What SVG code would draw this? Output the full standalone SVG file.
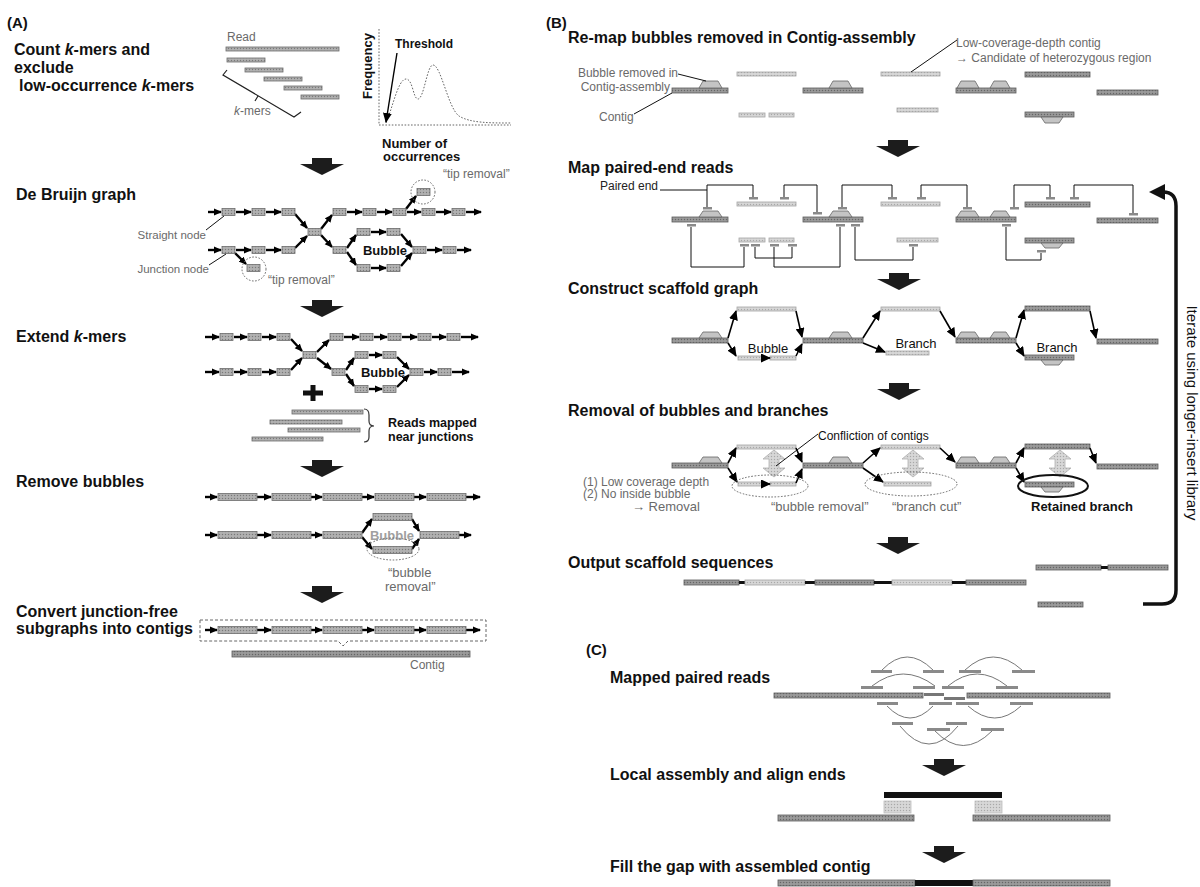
<svg xmlns="http://www.w3.org/2000/svg" width="1200" height="887" viewBox="0 0 1200 887">
<defs>
<style>
text{font-family:"Liberation Sans",Arial,Helvetica,sans-serif}
.ttl{font-size:16px;font-weight:bold;fill:#111}
.pl{font-size:15px;font-weight:bold;fill:#111}
.g{font-size:12px;fill:#6a6a6a}
.gb{font-size:13px;fill:#6a6a6a}
.bk{font-size:13px;font-weight:bold;fill:#111}
.rg{font-size:13px;fill:#111}
.n{fill:url(#texN);stroke:#6b6b6b;stroke-width:0.8}
.dk{fill:url(#texD);stroke:#5c5c5c;stroke-width:0.8}
.lt{fill:url(#texL);stroke:#a4a4a4;stroke-width:0.8}
.rd{fill:#8a8a8a}
.hat{fill:#c4c4c4;stroke:#666;stroke-width:0.8}
.e{stroke:#000;stroke-width:2.4;fill:none;marker-end:url(#ah)}
.e2{stroke:#000;stroke-width:1.6;fill:none;marker-end:url(#ah2)}
.th{stroke:#111;stroke-width:1;fill:none}
.dt{stroke:#666;stroke-width:1;stroke-dasharray:1.6 1.6;fill:none}
.arc{stroke:#777;stroke-width:1;fill:none}
.big{fill:#1c1c1c}
.dbl{fill:url(#texL);stroke:#b0b0b0;stroke-width:0.8}
</style>
<pattern id="texN" width="3" height="3" patternUnits="userSpaceOnUse"><rect width="3" height="3" fill="#ababab"/><rect width="1" height="1" fill="#7a7a7a"/><rect x="1.5" y="1.5" width="1" height="1" fill="#c4c4c4"/></pattern>
<pattern id="texD" width="3" height="3" patternUnits="userSpaceOnUse"><rect width="3" height="3" fill="#939393"/><rect width="1" height="1" fill="#666"/><rect x="1.5" y="1.5" width="1" height="1" fill="#b0b0b0"/></pattern>
<pattern id="texL" width="3" height="3" patternUnits="userSpaceOnUse"><rect width="3" height="3" fill="#d2d2d2"/><rect width="1" height="1" fill="#a8a8a8"/><rect x="1.5" y="1.5" width="1" height="1" fill="#e6e6e6"/></pattern>
<marker id="ah" markerUnits="userSpaceOnUse" markerWidth="8" markerHeight="8" refX="7" refY="4" orient="auto"><path d="M0,0.5 L8,4 L0,7.5 Z" fill="#000"/></marker>
<marker id="ah2" markerUnits="userSpaceOnUse" markerWidth="10" markerHeight="9" refX="9" refY="4.5" orient="auto"><path d="M0,0 L10,4.5 L0,9 Z" fill="#000"/></marker>
<path id="bigarrow" d="M-10,0 H10 V6 H22 L0,17 L-22,6 H-10 Z"/>
<path id="dblarrow" d="M0,0 L11,9 L5,9 L5,18 L11,18 L0,27 L-11,18 L-5,18 L-5,9 L-11,9 Z"/>
</defs>
<rect width="1200" height="887" fill="#fff"/>

<!-- ================= PANEL A ================= -->
<g id="a-count">
<text class="pl" x="7" y="28">(A)</text>
<text class="ttl" x="14" y="55">Count <tspan font-style="italic">k</tspan>-mers and</text>
<text class="ttl" x="14" y="73">exclude</text>
<text class="ttl" x="19" y="91">low-occurrence <tspan font-style="italic">k</tspan>-mers</text>
</g>
<g id="a-reads">
<text class="g" x="227" y="41">Read</text>
<rect class="n" x="226" y="47" width="113" height="4"/>
<rect class="n" x="227" y="58" width="38" height="4"/>
<rect class="n" x="245" y="68" width="38" height="4"/>
<rect class="n" x="264" y="77" width="38" height="4"/>
<rect class="n" x="284" y="86" width="38" height="4"/>
<rect class="n" x="301" y="95" width="38" height="4"/>
<path d="M227,70 L223,75 L294,117 L301,112 M258,96 L255,101" stroke="#222" stroke-width="1.2" fill="none"/>
<text class="g" x="234" y="115"><tspan font-style="italic">k</tspan>-mers</text>
</g>
<g id="a-histogram">
<line class="dt" x1="379" y1="29" x2="379" y2="125"/>
<line class="dt" x1="379" y1="125" x2="511" y2="125"/>
<text class="bk" transform="translate(372,66) rotate(-90)" text-anchor="middle">Frequency</text>
<text class="bk" x="395" y="48" style="font-size:12px">Threshold</text>
<path class="dt" d="M386,123 C392,110 398,79 406,79 C413,79 413,99 418,99 C424,99 427,65 433,65 C441,65 448,108 459,116 C470,123 490,123 511,123"/>
<line x1="397" y1="53" x2="386" y2="122" stroke="#000" stroke-width="1.4" marker-end="url(#ah2)"/>
<text class="bk" x="382" y="148">Number of</text>
<text class="bk" x="383" y="161">occurrences</text>
</g>

<g id="a-arrows">
<use href="#bigarrow" class="big" x="322" y="158"/>
<use href="#bigarrow" class="big" x="322" y="300"/>
<use href="#bigarrow" class="big" x="322" y="460"/>
<use href="#bigarrow" class="big" x="322" y="586"/>
</g>

<g id="a-debruijn">
<text class="ttl" x="16" y="200">De Bruijn graph</text>
<g id="a-db-edges">
<line class="e" x1="208" y1="212" x2="221" y2="212"/>
<line class="e" x1="236" y1="212" x2="251" y2="212"/>
<line class="e" x1="266" y1="212" x2="281" y2="212"/>
<line class="e" x1="295" y1="214" x2="307" y2="228"/>
<line class="e" x1="321" y1="229" x2="332" y2="215"/>
<line class="e" x1="347" y1="212" x2="362" y2="212"/>
<line class="e" x1="377" y1="212" x2="392" y2="212"/>
<line class="e" x1="407" y1="212" x2="421" y2="212"/>
<line class="e" x1="436" y1="212" x2="451" y2="212"/>
<line class="e" x1="466" y1="212" x2="481" y2="212"/>
<line class="e" x1="406" y1="209" x2="416" y2="196"/>
<line class="e" x1="208" y1="250" x2="221" y2="250"/>
<line class="e" x1="236" y1="250" x2="251" y2="250"/>
<line class="e" x1="266" y1="250" x2="281" y2="250"/>
<line class="e" x1="295" y1="248" x2="307" y2="236"/>
<line class="e" x1="321" y1="235" x2="332" y2="247"/>
<line class="e" x1="347" y1="248" x2="356" y2="235"/>
<line class="e" x1="347" y1="252" x2="356" y2="265"/>
<line class="e" x1="371" y1="232" x2="386" y2="232"/>
<line class="e" x1="371" y1="268" x2="386" y2="268"/>
<line class="e" x1="401" y1="234" x2="412" y2="247"/>
<line class="e" x1="401" y1="266" x2="412" y2="253"/>
<line class="e" x1="427" y1="250" x2="442" y2="250"/>
<line class="e" x1="457" y1="250" x2="471" y2="250"/>
<line class="e" x1="235" y1="253" x2="246" y2="264"/>
</g>
<g id="a-db-nodes">
<rect class="n" x="222" y="208.5" width="13" height="7"/>
<rect class="n" x="252" y="208.5" width="13" height="7"/>
<rect class="n" x="282" y="208.5" width="13" height="7"/>
<rect class="n" x="308" y="228.5" width="13" height="7"/>
<rect class="n" x="333" y="208.5" width="13" height="7"/>
<rect class="n" x="363" y="208.5" width="13" height="7"/>
<rect class="n" x="393" y="208.5" width="13" height="7"/>
<rect class="n" x="422" y="208.5" width="13" height="7"/>
<rect class="n" x="452" y="208.5" width="13" height="7"/>
<rect class="n" x="417" y="188.5" width="13" height="7"/>
<rect class="n" x="222" y="246.5" width="13" height="7"/>
<rect class="n" x="252" y="246.5" width="13" height="7"/>
<rect class="n" x="282" y="246.5" width="13" height="7"/>
<rect class="n" x="333" y="246.5" width="13" height="7"/>
<rect class="n" x="357" y="228.5" width="13" height="7"/>
<rect class="n" x="387" y="228.5" width="13" height="7"/>
<rect class="n" x="357" y="264.5" width="13" height="7"/>
<rect class="n" x="387" y="264.5" width="13" height="7"/>
<rect class="n" x="413" y="246.5" width="13" height="7"/>
<rect class="n" x="443" y="246.5" width="13" height="7"/>
<rect class="n" x="247" y="264.5" width="13" height="7"/>
</g>
<circle class="dt" cx="423" cy="192" r="12"/>
<circle class="dt" cx="254" cy="269" r="12"/>
<text class="g" x="443" y="178">“tip removal”</text>
<text class="g" x="268" y="284">“tip removal”</text>
<text class="g" x="206" y="239" text-anchor="end" style="font-size:11.5px">Straight node</text>
<line class="th" x1="206" y1="230" x2="224" y2="216"/>
<text class="g" x="209" y="273" text-anchor="end" style="font-size:11.5px">Junction node</text>
<line class="th" x1="209" y1="265" x2="226" y2="254"/>
<text class="bk" x="385" y="255" text-anchor="middle">Bubble</text>
</g>

<g id="a-extend">
<text class="ttl" x="16" y="342">Extend <tspan font-style="italic">k</tspan>-mers</text>
<g id="a-ex-edges">
<line class="e" x1="205" y1="337" x2="219" y2="337"/>
<line class="e" x1="234" y1="337" x2="247" y2="337"/>
<line class="e" x1="262" y1="337" x2="276" y2="337"/>
<line class="e" x1="291" y1="339" x2="302" y2="351"/>
<line class="e" x1="317" y1="352" x2="329" y2="340"/>
<line class="e" x1="344" y1="337" x2="359" y2="337"/>
<line class="e" x1="374" y1="337" x2="387" y2="337"/>
<line class="e" x1="402" y1="337" x2="417" y2="337"/>
<line class="e" x1="432" y1="337" x2="446" y2="337"/>
<line class="e" x1="461" y1="337" x2="478" y2="337"/>
<line class="e" x1="205" y1="372" x2="219" y2="372"/>
<line class="e" x1="234" y1="372" x2="247" y2="372"/>
<line class="e" x1="262" y1="372" x2="276" y2="372"/>
<line class="e" x1="291" y1="370" x2="302" y2="358"/>
<line class="e" x1="317" y1="358" x2="331" y2="369"/>
<line class="e" x1="346" y1="370" x2="354" y2="358"/>
<line class="e" x1="346" y1="374" x2="354" y2="386"/>
<line class="e" x1="369" y1="355" x2="382" y2="355"/>
<line class="e" x1="369" y1="389" x2="382" y2="389"/>
<line class="e" x1="397" y1="357" x2="409" y2="369"/>
<line class="e" x1="397" y1="387" x2="409" y2="375"/>
<line class="e" x1="424" y1="372" x2="437" y2="372"/>
<line class="e" x1="452" y1="372" x2="469" y2="372"/>
</g>
<g id="a-ex-nodes">
<rect class="n" x="220" y="333.5" width="13" height="7"/>
<rect class="n" x="248" y="333.5" width="13" height="7"/>
<rect class="n" x="277" y="333.5" width="13" height="7"/>
<rect class="n" x="303" y="351.5" width="13" height="7"/>
<rect class="n" x="330" y="333.5" width="13" height="7"/>
<rect class="n" x="360" y="333.5" width="13" height="7"/>
<rect class="n" x="388" y="333.5" width="13" height="7"/>
<rect class="n" x="418" y="333.5" width="13" height="7"/>
<rect class="n" x="447" y="333.5" width="13" height="7"/>
<rect class="n" x="220" y="368.5" width="13" height="7"/>
<rect class="n" x="248" y="368.5" width="13" height="7"/>
<rect class="n" x="277" y="368.5" width="13" height="7"/>
<rect class="n" x="332" y="368.5" width="13" height="7"/>
<rect class="n" x="355" y="351.5" width="13" height="7"/>
<rect class="n" x="383" y="351.5" width="13" height="7"/>
<rect class="n" x="355" y="385.5" width="13" height="7"/>
<rect class="n" x="383" y="385.5" width="13" height="7"/>
<rect class="n" x="410" y="368.5" width="13" height="7"/>
<rect class="n" x="438" y="368.5" width="13" height="7"/>
</g>
<text class="bk" x="383" y="377" text-anchor="middle">Bubble</text>
<path d="M303,393 H323 M313,385 V401" stroke="#111" stroke-width="5"/>
<rect class="n" x="292" y="410" width="71" height="4"/>
<rect class="n" x="270" y="420" width="72" height="4"/>
<rect class="n" x="288" y="428" width="72" height="4"/>
<rect class="n" x="252" y="437" width="71" height="4"/>
<path d="M364,409 Q369,409 369,415 L369,421 Q369,426 374,426 Q369,426 369,431 L369,437 Q369,442 364,442" stroke="#333" stroke-width="1.2" fill="none"/>
<text class="bk" x="388" y="427" style="font-size:12.5px">Reads mapped</text>
<text class="bk" x="388" y="441" style="font-size:12.5px">near junctions</text>
</g>

<g id="a-remove">
<text class="ttl" x="16" y="487">Remove bubbles</text>
<g id="a-rm-edges">
<line class="e" x1="205" y1="497" x2="217" y2="497"/>
<line class="e" x1="257" y1="497" x2="271" y2="497"/>
<line class="e" x1="311" y1="497" x2="322" y2="497"/>
<line class="e" x1="362" y1="497" x2="374" y2="497"/>
<line class="e" x1="414" y1="497" x2="426" y2="497"/>
<line class="e" x1="466" y1="497" x2="480" y2="497"/>
<line class="e" x1="205" y1="535" x2="217" y2="535"/>
<line class="e" x1="257" y1="535" x2="271" y2="535"/>
<line class="e" x1="311" y1="535" x2="322" y2="535"/>
<line class="e" x1="362" y1="533" x2="372" y2="519"/>
<line class="e" x1="362" y1="537" x2="372" y2="549"/>
<line class="e" x1="412" y1="519" x2="419" y2="531"/>
<line class="e" x1="412" y1="549" x2="419" y2="539"/>
<line class="e" x1="459" y1="535" x2="471" y2="535"/>
</g>
<g id="a-rm-nodes">
<rect class="n" x="218" y="493.5" width="39" height="7"/>
<rect class="n" x="272" y="493.5" width="39" height="7"/>
<rect class="n" x="323" y="493.5" width="39" height="7"/>
<rect class="n" x="375" y="493.5" width="39" height="7"/>
<rect class="n" x="427" y="493.5" width="39" height="7"/>
<rect class="n" x="218" y="531.5" width="39" height="7"/>
<rect class="n" x="272" y="531.5" width="39" height="7"/>
<rect class="n" x="323" y="531.5" width="39" height="7"/>
<rect class="n" x="373" y="513.5" width="39" height="7"/>
<rect class="n" x="373" y="546.5" width="39" height="7"/>
<rect class="n" x="420" y="531.5" width="39" height="7"/>
</g>
<text x="392" y="540" text-anchor="middle" style="font-size:13px;font-weight:bold;fill:#a0a0a0;stroke:#fff;stroke-width:2;paint-order:stroke">Bubble</text>
<ellipse class="dt" cx="393" cy="549" rx="26" ry="11"/>
<text class="gb" x="388" y="577">“bubble</text>
<text class="gb" x="385" y="591">removal”</text>
</g>

<g id="a-convert">
<text class="ttl" x="16" y="617">Convert junction-free</text>
<text class="ttl" x="16" y="634">subgraphs into contigs</text>
<g id="a-cv-edges">
<line class="e" x1="205" y1="630" x2="217" y2="630"/>
<line class="e" x1="257" y1="630" x2="271" y2="630"/>
<line class="e" x1="311" y1="630" x2="322" y2="630"/>
<line class="e" x1="362" y1="630" x2="374" y2="630"/>
<line class="e" x1="414" y1="630" x2="426" y2="630"/>
<line class="e" x1="466" y1="630" x2="480" y2="630"/>
</g>
<g id="a-cv-nodes">
<rect class="n" x="218" y="626.5" width="39" height="7"/>
<rect class="n" x="272" y="626.5" width="39" height="7"/>
<rect class="n" x="323" y="626.5" width="39" height="7"/>
<rect class="n" x="375" y="626.5" width="39" height="7"/>
<rect class="n" x="427" y="626.5" width="39" height="7"/>
</g>
<path d="M200,620 H486 V641 H348 L343,646 L338,641 H200 Z" fill="none" stroke="#666" stroke-width="1" stroke-dasharray="3 2"/>
<rect class="dk" x="232" y="651" width="238" height="6"/>
<text class="g" x="410" y="669">Contig</text>
</g>

<!-- ================= PANEL B ================= -->
<text class="pl" x="546" y="28">(B)</text>

<g id="b-remap">
<text class="ttl" x="568" y="43">Re-map bubbles removed in Contig-assembly</text>
<rect class="dk" x="672" y="88" width="56" height="5"/>
<polygon class="hat" points="699,88 703,81 718,81 722,88"/>
<rect class="lt" x="737" y="72" width="59" height="4"/>
<rect class="lt" x="739" y="113" width="26" height="4"/>
<rect class="lt" x="769" y="113" width="25" height="4"/>
<rect class="dk" x="803" y="88" width="60" height="5"/>
<polygon class="hat" points="829,88 833,81 848,81 852,88"/>
<rect class="lt" x="881" y="72" width="59" height="4"/>
<rect class="lt" x="897" y="108" width="41" height="4"/>
<rect class="dk" x="956" y="88" width="60" height="5"/>
<polygon class="hat" points="957,88 961,81 975,81 979,88"/>
<polygon class="hat" points="990,88 994,81 1006,81 1010,88"/>
<rect class="dk" x="1025" y="72" width="65" height="5"/>
<rect class="dk" x="1025" y="112" width="49" height="5"/>
<polygon class="hat" points="1041,117 1045,123 1059,123 1063,117"/>
<rect class="dk" x="1097" y="90" width="61" height="5"/>
<text class="g" x="678" y="77" text-anchor="end">Bubble removed in</text>
<text class="g" x="670" y="91" text-anchor="end">Contig-assembly</text>
<line class="th" x1="678" y1="74" x2="706" y2="81"/>
<text class="g" x="599" y="121">Contig</text>
<line class="th" x1="634" y1="114" x2="672" y2="93"/>
<text class="g" x="956" y="47">Low-coverage-depth contig</text>
<text class="g" x="956" y="62">→ Candidate of heterozygous region</text>
<line class="th" x1="957" y1="40" x2="911" y2="72"/>
</g>

<g id="b-arrows">
<use href="#bigarrow" class="big" x="898" y="140"/>
<use href="#bigarrow" class="big" x="899" y="273"/>
<use href="#bigarrow" class="big" x="899" y="383"/>
<use href="#bigarrow" class="big" x="898" y="537"/>
</g>

<g id="b-paired">
<text class="ttl" x="568" y="173">Map paired-end reads</text>
<text x="600" y="190" style="font-size:12px;fill:#222">Paired end</text>
<rect class="dk" x="672" y="217" width="56" height="5"/>
<polygon class="hat" points="699,217 703,211 718,211 722,217"/>
<rect class="lt" x="737" y="202" width="59" height="4"/>
<rect class="lt" x="739" y="238" width="26" height="4"/>
<rect class="lt" x="769" y="238" width="25" height="4"/>
<rect class="dk" x="803" y="217" width="60" height="5"/>
<polygon class="hat" points="829,217 833,211 848,211 852,217"/>
<rect class="lt" x="881" y="202" width="59" height="4"/>
<rect class="lt" x="897" y="238" width="41" height="4"/>
<rect class="dk" x="956" y="217" width="60" height="5"/>
<polygon class="hat" points="957,217 961,211 975,211 979,217"/>
<polygon class="hat" points="990,217 994,211 1006,211 1010,217"/>
<rect class="dk" x="1025" y="202" width="65" height="5"/>
<rect class="dk" x="1025" y="238" width="49" height="5"/>
<polygon class="hat" points="1041,243 1045,248 1059,248 1063,243"/>
<rect class="dk" x="1097" y="218" width="61" height="5"/>
<g id="b-pe-reads" class="rd">
<rect x="703" y="207" width="9" height="2.5"/>
<rect x="749" y="197" width="9" height="2.5"/>
<rect x="780" y="197" width="9" height="2.5"/>
<rect x="813" y="212" width="9" height="2.5"/>
<rect x="838" y="207" width="9" height="2.5"/>
<rect x="888" y="197" width="9" height="2.5"/>
<rect x="917" y="197" width="9" height="2.5"/>
<rect x="963" y="207" width="9" height="2.5"/>
<rect x="1010" y="207" width="9" height="2.5"/>
<rect x="1046" y="197" width="9" height="2.5"/>
<rect x="1070" y="197" width="9" height="2.5"/>
<rect x="1129" y="213" width="9" height="2.5"/>
<rect x="687" y="224" width="9" height="2.5"/>
<rect x="740" y="244" width="9" height="2.5"/>
<rect x="751" y="244" width="9" height="2.5"/>
<rect x="770" y="244" width="9" height="2.5"/>
<rect x="788" y="244" width="9" height="2.5"/>
<rect x="836" y="224" width="9" height="2.5"/>
<rect x="851" y="224" width="9" height="2.5"/>
<rect x="909" y="244" width="9" height="2.5"/>
<rect x="1002" y="224" width="9" height="2.5"/>
<rect x="1037" y="250" width="9" height="2.5"/>
</g>
<g id="b-pe-links" class="th">
<path d="M660,190 H707"/>
<path d="M707,207 V185 H753 V197"/>
<path d="M784,197 V185 H817 V212"/>
<path d="M842,207 V185 H892 V197"/>
<path d="M921,197 V185 H967 V207"/>
<path d="M1014,207 V185 H1050 V197"/>
<path d="M1074,197 V185 H1133 V213"/>
<path d="M691,227 V267 H744 V247"/>
<path d="M755,247 V258 H792 V247"/>
<path d="M774,247 V267 H840 V227"/>
<path d="M855,227 V260 H913 V247"/>
<path d="M1006,227 V260 H1041 V253"/>
</g>
</g>

<g id="b-scaffold">
<text class="ttl" x="568" y="294">Construct scaffold graph</text>
<rect class="dk" x="672" y="338" width="56" height="5"/>
<polygon class="hat" points="699,338 703,332 718,332 722,338"/>
<rect class="lt" x="737" y="307" width="59" height="4"/>
<rect class="lt" x="738" y="356" width="25" height="4"/>
<rect class="lt" x="770" y="356" width="26" height="4"/>
<rect class="dk" x="803" y="338" width="60" height="5"/>
<polygon class="hat" points="829,338 833,332 848,332 852,338"/>
<rect class="lt" x="881" y="307" width="59" height="4"/>
<rect class="lt" x="886" y="351" width="43" height="4"/>
<rect class="dk" x="956" y="338" width="60" height="5"/>
<polygon class="hat" points="957,338 961,332 975,332 979,338"/>
<polygon class="hat" points="990,338 994,332 1006,332 1010,338"/>
<rect class="dk" x="1025" y="306" width="65" height="5"/>
<rect class="dk" x="1025" y="355" width="49" height="5"/>
<polygon class="hat" points="1041,360 1045,365 1059,365 1063,360"/>
<rect class="dk" x="1097" y="339" width="61" height="5"/>
<g id="b-sc-edges">
<line class="e2" x1="728" y1="338" x2="736" y2="311"/>
<line class="e2" x1="728" y1="343" x2="736" y2="356"/>
<line class="e2" x1="763" y1="358" x2="770" y2="358"/>
<line class="e2" x1="796" y1="311" x2="802" y2="337"/>
<line class="e2" x1="796" y1="356" x2="802" y2="344"/>
<line class="e2" x1="863" y1="338" x2="880" y2="311"/>
<line class="e2" x1="863" y1="343" x2="885" y2="352"/>
<line class="e2" x1="940" y1="311" x2="955" y2="337"/>
<line class="e2" x1="1016" y1="338" x2="1024" y2="310"/>
<line class="e2" x1="1016" y1="343" x2="1024" y2="356"/>
<line class="e2" x1="1090" y1="311" x2="1096" y2="338"/>
</g>
<text class="rg" x="768" y="353" text-anchor="middle">Bubble</text>
<text class="rg" x="916" y="348" text-anchor="middle">Branch</text>
<text class="rg" x="1057" y="352" text-anchor="middle">Branch</text>
</g>

<g id="b-removal">
<text class="ttl" x="568" y="416">Removal of bubbles and branches</text>
<use href="#dblarrow" class="dbl" x="774" y="450"/>
<use href="#dblarrow" class="dbl" x="913" y="450"/>
<use href="#dblarrow" class="dbl" x="1060" y="450"/>
<rect class="dk" x="672" y="463" width="56" height="5"/>
<polygon class="hat" points="699,463 703,457 718,457 722,463"/>
<rect class="lt" x="737" y="445" width="59" height="4"/>
<rect class="lt" x="738" y="482" width="25" height="4"/>
<rect class="lt" x="770" y="482" width="26" height="4"/>
<rect class="dk" x="803" y="463" width="60" height="5"/>
<polygon class="hat" points="829,463 833,457 848,457 852,463"/>
<rect class="lt" x="881" y="445" width="59" height="4"/>
<rect class="lt" x="884" y="482" width="47" height="4"/>
<rect class="dk" x="956" y="463" width="60" height="5"/>
<polygon class="hat" points="957,463 961,457 975,457 979,463"/>
<polygon class="hat" points="990,463 994,457 1006,457 1010,463"/>
<rect class="dk" x="1025" y="444" width="65" height="5"/>
<rect class="dk" x="1025" y="482" width="49" height="5"/>
<polygon class="hat" points="1041,487 1045,492 1059,492 1063,487"/>
<rect class="dk" x="1097" y="464" width="61" height="5"/>
<g id="b-rm-edges">
<line class="e2" x1="728" y1="463" x2="736" y2="448"/>
<line class="e2" x1="728" y1="468" x2="737" y2="482"/>
<line class="e2" x1="763" y1="484" x2="770" y2="484"/>
<line class="e2" x1="796" y1="448" x2="802" y2="462"/>
<line class="e2" x1="796" y1="483" x2="802" y2="469"/>
<line class="e2" x1="863" y1="463" x2="880" y2="448"/>
<line class="e2" x1="863" y1="468" x2="883" y2="482"/>
<line class="e2" x1="940" y1="448" x2="955" y2="462"/>
<line class="e2" x1="1016" y1="463" x2="1024" y2="448"/>
<line class="e2" x1="1016" y1="468" x2="1024" y2="482"/>
<line class="e2" x1="1090" y1="448" x2="1096" y2="463"/>
</g>
<text x="818" y="440" style="font-size:12px;fill:#111">Confliction of contigs</text>
<line class="th" x1="818" y1="434" x2="776" y2="466"/>
<ellipse class="dt" cx="770" cy="486" rx="38" ry="11"/>
<ellipse class="dt" cx="911" cy="484" rx="46" ry="12"/>
<ellipse cx="1053" cy="486" rx="35" ry="11" fill="none" stroke="#111" stroke-width="2"/>
<text class="g" x="583" y="486">(1) Low coverage depth</text>
<text class="g" x="583" y="498">(2) No inside bubble</text>
<text class="gb" x="632" y="511">→ Removal</text>
<text class="gb" x="771" y="511">“bubble removal”</text>
<text class="gb" x="892" y="511">“branch cut”</text>
<text class="bk" x="1031" y="511">Retained branch</text>
</g>

<g id="b-output">
<text class="ttl" x="568" y="568">Output scaffold sequences</text>
<rect class="dk" x="684" y="580" width="55" height="5"/>
<rect x="739" y="581" width="6" height="3" fill="#111"/>
<rect class="lt" x="745" y="580" width="60" height="5"/>
<rect x="805" y="581" width="10" height="3" fill="#111"/>
<rect class="dk" x="815" y="580" width="59" height="5"/>
<rect x="874" y="581" width="18" height="3" fill="#111"/>
<rect class="lt" x="892" y="580" width="60" height="5"/>
<rect x="952" y="581" width="14" height="3" fill="#111"/>
<rect class="dk" x="966" y="580" width="60" height="5"/>
<rect class="dk" x="1036" y="565" width="65" height="5"/>
<rect x="1101" y="566" width="7" height="3" fill="#111"/>
<rect class="dk" x="1108" y="565" width="60" height="5"/>
<rect class="dk" x="1038" y="602" width="45" height="5"/>
</g>

<g id="b-iterate">
<path d="M1143,604 H1162 Q1176,604 1176,590 V206 Q1176,192 1163,192" fill="none" stroke="#111" stroke-width="3.5"/>
<polygon points="1149,192 1165,184 1165,200" fill="#111"/>
<text transform="translate(1187,413) rotate(90)" text-anchor="middle" style="font-size:15px;fill:#111">Iterate using longer-insert library</text>
</g>

<!-- ================= PANEL C ================= -->
<g id="c-mapped">
<text class="pl" x="586" y="655">(C)</text>
<text class="ttl" x="610" y="683">Mapped paired reads</text>
<g class="arc">
<path d="M882,670 Q907,644 933,670"/>
<path d="M965,670 Q993,644 1022,670"/>
<path d="M872,686 Q903,662 935,686"/>
<path d="M948,686 Q977,662 1007,686"/>
<path d="M887,706 Q910,730 933,706"/>
<path d="M968,706 Q995,730 1021,706"/>
<path d="M900,726 Q929,762 958,726"/>
<path d="M935,731 Q963,760 992,731"/>
</g>
<rect class="dk" x="774" y="693" width="149" height="5"/>
<rect class="dk" x="967" y="693" width="143" height="5"/>
<rect x="924" y="693" width="20" height="3" fill="#777"/>
<rect x="944" y="697" width="21" height="3" fill="#777"/>
<g class="rd">
<rect x="871" y="670" width="21" height="3"/>
<rect x="923" y="670" width="21" height="3"/>
<rect x="959" y="670" width="22" height="3"/>
<rect x="1012" y="670" width="23" height="3"/>
<rect x="861" y="686" width="22" height="3"/>
<rect x="913" y="686" width="22" height="3"/>
<rect x="942" y="686" width="22" height="3"/>
<rect x="996" y="686" width="22" height="3"/>
<rect x="877" y="702" width="21" height="3"/>
<rect x="929" y="702" width="23" height="3"/>
<rect x="956" y="702" width="23" height="3"/>
<rect x="1010" y="702" width="23" height="3"/>
<rect x="892" y="722" width="21" height="3"/>
<rect x="946" y="722" width="21" height="3"/>
<rect x="927" y="728" width="23" height="3"/>
<rect x="981" y="728" width="23" height="3"/>
</g>
</g>
<use href="#bigarrow" class="big" x="944" y="759"/>
<g id="c-local">
<text class="ttl" x="610" y="780">Local assembly and align ends</text>
<rect x="884" y="792" width="118" height="6" fill="#111"/>
<rect x="884" y="801" width="27" height="12" fill="url(#texL)" stroke="#bdbdbd" stroke-width="0.8"/>
<rect x="975" y="801" width="27" height="12" fill="url(#texL)" stroke="#bdbdbd" stroke-width="0.8"/>
<rect class="dk" x="778" y="815" width="136" height="6"/>
<rect class="dk" x="973" y="815" width="137" height="6"/>
</g>
<use href="#bigarrow" class="big" x="944" y="846"/>
<g id="c-fill">
<text class="ttl" x="610" y="872">Fill the gap with assembled contig</text>
<rect class="dk" x="778" y="880" width="137" height="6"/>
<rect x="915" y="880" width="58" height="6" fill="#111"/>
<rect class="dk" x="973" y="880" width="137" height="6"/>
</g>
</svg>
